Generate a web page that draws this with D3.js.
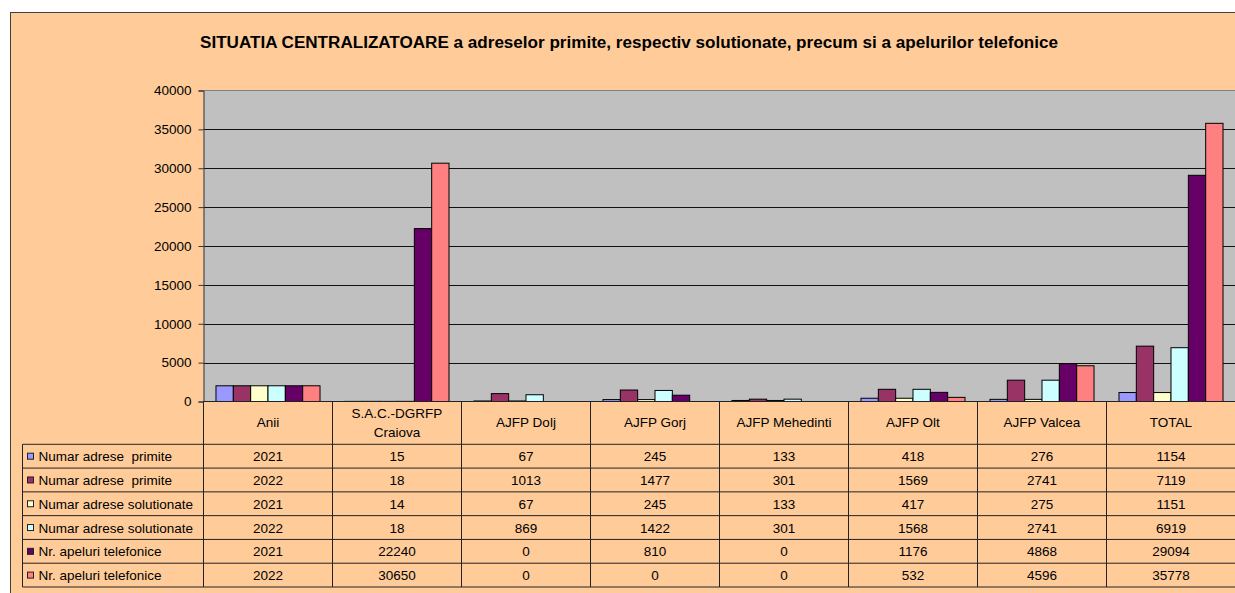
<!DOCTYPE html>
<html>
<head>
<meta charset="utf-8">
<script src="https://cdn.jsdelivr.net/npm/d3@7"></script>
<style>
  html, body { margin: 0; padding: 0; background: #ffffff; }
  svg { display: block; font-family: "Liberation Sans", Arial, sans-serif; }
  text { white-space: pre; }
</style>
</head>
<body>
<svg id="chart" width="1235" height="593"></svg>
<script>
// ---- data ----
const title = "SITUATIA CENTRALIZATOARE a adreselor primite, respectiv solutionate, precum si a apelurilor telefonice";
const categories = ["Anii", "S.A.C.-DGRFP\nCraiova", "AJFP Dolj", "AJFP Gorj", "AJFP Mehedinti", "AJFP Olt", "AJFP Valcea", "TOTAL"];
const seriesNames = [
  "Numar adrese  primite",
  "Numar adrese  primite",
  "Numar adrese solutionate",
  "Numar adrese solutionate",
  "Nr. apeluri telefonice",
  "Nr. apeluri telefonice"
];
const seriesColors = ["#9999FF", "#993366", "#FFFFCC", "#CCFFFF", "#660066", "#FF8080"];
const primite2021      = [2021, 15, 67, 245, 133, 418, 276, 1154];
const primite2022      = [2022, 18, 1013, 1477, 301, 1569, 2741, 7119];
const solutionate2021  = [2021, 14, 67, 245, 133, 417, 275, 1151];
const solutionate2022  = [2022, 18, 869, 1422, 301, 1568, 2741, 6919];
const apeluri2021      = [2021, 22240, 0, 810, 0, 1176, 4868, 29094];
const apeluri2022      = [2022, 30650, 0, 0, 0, 532, 4596, 35778];
const yTicks = [0, 5000, 10000, 15000, 20000, 25000, 30000, 35000, 40000];

const seriesValues = [primite2021, primite2022, solutionate2021, solutionate2022, apeluri2021, apeluri2022];
const seriesIdx = d3.range(seriesValues.length);

// ---- layout ----
const svg = d3.select("#chart");
const W = 1235, H = 593;
const plotLeft = 203.5, plotTop = 90.5, plotBottom = 401.5;
const step = 129;
const plotRight = plotLeft + step * categories.length;
const tableTop = 444.3, tableBottom = 587;
const legendLeft = 22.5;
const fs = 13.5;

// outer chart area
svg.append("rect").attr("x", 10.5).attr("y", 12.5).attr("width", W + 20).attr("height", H + 20)
  .attr("fill", "#FFCC99").attr("stroke", "#404040").attr("stroke-width", 1);

// title
svg.append("text").attr("x", 629).attr("y", 47.5).attr("text-anchor", "middle")
  .attr("font-size", 16).attr("font-weight", "bold").attr("fill", "#000")
  .attr("textLength", 858).attr("lengthAdjust", "spacingAndGlyphs")
  .text(title);

// scales
const x0 = d3.scaleBand().domain(d3.range(categories.length)).range([plotLeft, plotRight]).paddingInner(0).paddingOuter(0);
const x1 = d3.scaleBand().domain(seriesIdx).range([0, x0.bandwidth()]).paddingInner(0).paddingOuter(0.72);
const y = d3.scaleLinear().domain([0, 40000]).range([plotBottom, plotTop]);

// plot area background
svg.append("rect").attr("x", plotLeft).attr("y", plotTop).attr("width", plotRight - plotLeft).attr("height", plotBottom - plotTop)
  .attr("fill", "#C0C0C0");

// gridlines
svg.append("g").selectAll("line").data(yTicks.filter(t => t > 0 && t < 40000)).join("line")
  .attr("x1", plotLeft).attr("x2", plotRight)
  .attr("y1", d => Math.round(y(d)) + 0.5).attr("y2", d => Math.round(y(d)) + 0.5)
  .attr("stroke", "#111").attr("stroke-width", 1);
svg.append("line").attr("x1", plotLeft).attr("x2", plotRight).attr("y1", plotTop).attr("y2", plotTop)
  .attr("stroke", "#808080").attr("stroke-width", 1);

// y axis
const yAxis = d3.axisLeft(y).tickValues(yTicks).tickSize(5).tickPadding(7).tickFormat(d3.format("d"));
const gy = svg.append("g").attr("transform", `translate(${plotLeft},0)`).call(yAxis);
gy.select(".domain").attr("stroke", "#333");
gy.selectAll(".tick line").attr("stroke", "#333");
gy.selectAll(".tick text").attr("font-size", fs).attr("fill", "#000")
  .attr("font-family", "Liberation Sans, Arial, sans-serif");

// bars
const bars = svg.append("g");
seriesIdx.forEach(s => {
  bars.append("g").selectAll("rect")
    .data(seriesValues[s].map((v, i) => ({ v, i })).filter(d => d.v > 0))
    .join("rect")
    .attr("x", d => x0(d.i) + x1(s))
    .attr("width", x1.bandwidth())
    .attr("y", d => y(d.v))
    .attr("height", d => y(0) - y(d.v))
    .attr("fill", seriesColors[s])
    .attr("stroke", "#000").attr("stroke-width", 1);
});

// category axis line
svg.append("line").attr("x1", plotLeft).attr("x2", plotRight).attr("y1", plotBottom).attr("y2", plotBottom)
  .attr("stroke", "#222").attr("stroke-width", 1.2);

// ---- data table ----
const rowY = d3.scaleBand().domain(seriesIdx).range([tableTop, tableBottom]);
const table = svg.append("g");

// horizontal lines
seriesIdx.concat([seriesIdx.length]).forEach(r => {
  const yy = r < seriesIdx.length ? rowY(r) : tableBottom;
  table.append("line").attr("x1", legendLeft).attr("x2", plotRight)
    .attr("y1", yy).attr("y2", yy).attr("stroke", "#222").attr("stroke-width", 1);
});
// vertical lines
table.append("line").attr("x1", legendLeft).attr("x2", legendLeft).attr("y1", tableTop).attr("y2", tableBottom)
  .attr("stroke", "#222");
d3.range(categories.length + 1).forEach(i => {
  const xx = plotLeft + i * step;
  table.append("line").attr("x1", xx).attr("x2", xx).attr("y1", plotBottom).attr("y2", tableBottom)
    .attr("stroke", "#222");
});

// header labels
categories.forEach((c, i) => {
  const lines = c.split("\n");
  const cx = x0(i) + x0.bandwidth() / 2;
  const t = table.append("text").attr("x", cx).attr("text-anchor", "middle").attr("font-size", fs).attr("fill", "#000");
  if (lines.length === 1) {
    t.attr("y", 426.5).text(lines[0]);
  } else {
    t.append("tspan").attr("x", cx).attr("y", 418).text(lines[0]);
    t.append("tspan").attr("x", cx).attr("y", 436.5).text(lines[1]);
  }
});

// legend keys + labels + values
seriesIdx.forEach(s => {
  const cy = rowY(s) + rowY.bandwidth() / 2;
  table.append("rect").attr("x", 27.5).attr("y", cy - 3).attr("width", 6).attr("height", 6)
    .attr("fill", seriesColors[s]).attr("stroke", "#222").attr("stroke-width", 1);
  table.append("text").attr("x", 38.5).attr("y", cy + 5).attr("font-size", fs).attr("fill", "#000")
    .text(seriesNames[s]);
  seriesValues[s].forEach((v, i) => {
    table.append("text").attr("x", x0(i) + x0.bandwidth() / 2).attr("y", cy + 5)
      .attr("text-anchor", "middle").attr("font-size", fs).attr("fill", "#000").text(String(v));
  });
});
</script>
</body>
</html>
